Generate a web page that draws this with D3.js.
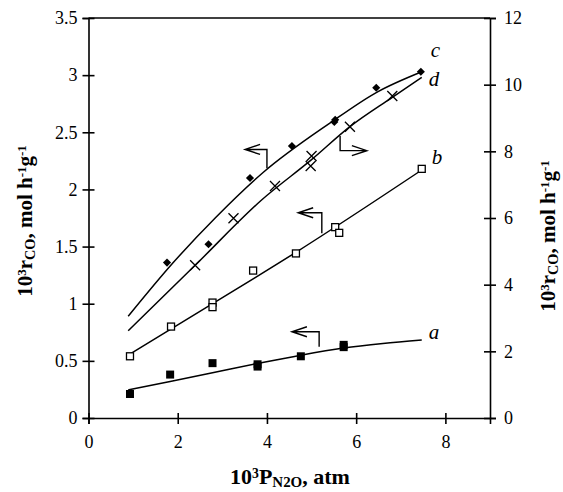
<!DOCTYPE html>
<html>
<head>
<meta charset="utf-8">
<script src="https://cdn.jsdelivr.net/npm/d3@7/dist/d3.min.js"></script>
<style>
  html, body { margin: 0; padding: 0; background: #fff; }
  svg { display: block; }
  text { font-family: "Liberation Serif", "Times New Roman", serif; fill: #000; }
</style>
</head>
<body>
<svg id="chart" width="563" height="492"></svg>
<script>
// Measured rates (series a, b, c on the left axis; d on the right axis)
const xA = [0.93, 1.83, 2.78, 3.79, 3.79, 4.76, 5.72, 5.72];
const yA = [0.21, 0.38, 0.48, 0.47, 0.45, 0.54, 0.64, 0.62];

const xB = [0.93, 1.85, 2.78, 2.78, 3.69, 4.65, 5.53, 5.62, 7.47];
const yB = [0.54, 0.80, 1.01, 0.97, 1.29, 1.44, 1.67, 1.62, 2.18];

const xC = [1.76, 2.69, 3.62, 4.56, 5.51, 5.53, 6.45, 7.45];
const yC = [1.36, 1.52, 2.10, 2.38, 2.59, 2.61, 2.89, 3.03];

const xD = [2.39, 3.25, 4.18, 4.98, 5.00, 5.86, 6.81];
const yD = [4.58, 5.99, 6.96, 7.56, 7.86, 8.74, 9.66];

// Fitted curves
const fitAx = [0.89, 1.83, 2.78, 3.79, 4.76, 5.72, 6.60, 7.47];
const fitAy = [0.245, 0.32, 0.396, 0.477, 0.55, 0.612, 0.652, 0.683];

const fitBx = [0.89, 2.80, 4.65, 7.47];
const fitBy = [0.55, 1.005, 1.45, 2.17];

const fitCx = [0.89, 1.90, 2.84, 3.92, 5.41, 6.46, 7.47];
const fitCy = [0.89, 1.36, 1.75, 2.15, 2.58, 2.85, 3.03];

const fitDx = [0.89, 2.39, 3.88, 5.00, 5.86, 6.81, 7.47];
const fitDy = [2.62, 4.58, 6.54, 7.75, 8.74, 9.62, 10.22];

// Axis ticks
const xTicks = [0, 2, 4, 6, 8];
const yLeftTicks = [0, 0.5, 1, 1.5, 2, 2.5, 3, 3.5];
const yRightTicks = [0, 2, 4, 6, 8, 10, 12];

// Curve labels and axis-pointer arrows (data units)
const curveLabels = ["a", "b", "c", "d"];
const arrowTipX = [4.56, 4.70, 3.51, 6.24];
const arrowTipY = [0.755, 1.796, 2.35, 8.02];
const arrowCornerX = [5.17, 5.23, 4.00, 5.64];
const arrowEndY = [0.624, 1.616, 2.185, 8.46];
const arrowAxis = ["left", "left", "left", "right"];

const svg = d3.select("#chart");
const x = d3.scaleLinear().domain([0, 9]).range([88.5, 490]);
const yL = d3.scaleLinear().domain([0, 3.5]).range([418, 18]);
const yR = d3.scaleLinear().domain([0, 12]).range([418, 18]);

const zip = (xs, ys) => xs.map((v, i) => [v, ys[i]]);

// Axes with ticks crossing the axis line
const gL = svg.append("g").attr("transform", `translate(${x(0)},0)`)
  .call(d3.axisLeft(yL).tickValues(yLeftTicks).tickFormat(d => String(d))
    .tickSizeOuter(0).tickSize(6).tickPadding(5));
gL.selectAll(".tick line").attr("x1", -6).attr("x2", 6);

const gR = svg.append("g").attr("transform", `translate(${x(9)},0)`)
  .call(d3.axisRight(yR).tickValues(yRightTicks).tickFormat(d => String(d))
    .tickSizeOuter(0).tickSize(6).tickPadding(8));
gR.selectAll(".tick line").attr("x1", -6).attr("x2", 6);

const gB = svg.append("g").attr("transform", `translate(0,${yL(0)})`)
  .call(d3.axisBottom(x).tickValues(xTicks).tickFormat(d => String(d))
    .tickSizeOuter(0).tickSize(6).tickPadding(11));
gB.selectAll(".tick line").attr("y1", -5).attr("y2", 6);

[gL, gR, gB].forEach(g => {
  g.select(".domain").attr("stroke", "#000").attr("stroke-width", 1.6);
  g.selectAll(".tick line").attr("stroke", "#000").attr("stroke-width", 1.6);
  g.selectAll(".tick text").attr("font-size", 18)
    .attr("font-family", "Liberation Serif, serif").attr("fill", "#000");
});

// top frame line
svg.append("line")
  .attr("x1", x(0)).attr("x2", x(9)).attr("y1", yL(3.5)).attr("y2", yL(3.5))
  .attr("stroke", "#000").attr("stroke-width", 1.6);

// Fitted curves
const lineL = d3.line().x(d => x(d[0])).y(d => yL(d[1])).curve(d3.curveMonotoneX);
const lineR = d3.line().x(d => x(d[0])).y(d => yR(d[1])).curve(d3.curveMonotoneX);

[[fitAx, fitAy, lineL], [fitBx, fitBy, lineL], [fitCx, fitCy, lineL], [fitDx, fitDy, lineR]]
  .forEach(([xs, ys, gen]) => {
    svg.append("path").attr("d", gen(zip(xs, ys)))
      .attr("fill", "none").attr("stroke", "#000").attr("stroke-width", 1.5);
  });

// a: filled squares
svg.append("g").selectAll("rect").data(zip(xA, yA)).join("rect")
  .attr("x", d => x(d[0]) - 4).attr("y", d => yL(d[1]) - 4)
  .attr("width", 8).attr("height", 8).attr("fill", "#000");

// b: open squares
svg.append("g").selectAll("rect").data(zip(xB, yB)).join("rect")
  .attr("x", d => x(d[0]) - 3.5).attr("y", d => yL(d[1]) - 3.5)
  .attr("width", 7).attr("height", 7)
  .attr("fill", "#fff").attr("stroke", "#000").attr("stroke-width", 1.3);

// c: filled diamonds
svg.append("g").selectAll("path").data(zip(xC, yC)).join("path")
  .attr("d", d3.symbol(d3.symbolDiamond2, 42))
  .attr("transform", d => `translate(${x(d[0])},${yL(d[1])})`)
  .attr("fill", "#000");

// d: crosses (right axis)
svg.append("g").selectAll("path").data(zip(xD, yD)).join("path")
  .attr("d", "M-5,-5L5,5M-5,5L5,-5")
  .attr("transform", d => `translate(${x(d[0])},${yR(d[1])})`)
  .attr("fill", "none").attr("stroke", "#000").attr("stroke-width", 1.3);

// Curve labels at the curve ends
const fitEnds = [
  [fitAx, fitAy, yL, 7, -1],
  [fitBx, fitBy, yL, 10, -6],
  [fitCx, fitCy, yL, 9, -15],
  [fitDx, fitDy, yR, 7, 9]
];
curveLabels.forEach((lab, i) => {
  const [xs, ys, ys_, dx, dy] = fitEnds[i];
  const n = xs.length - 1;
  svg.append("text")
    .attr("x", x(xs[n]) + dx).attr("y", ys_(ys[n]) + dy)
    .attr("font-size", 21).attr("font-style", "italic")
    .text(lab);
});

// Arrows pointing to the axis each curve belongs to
curveLabels.forEach((lab, i) => {
  const ys_ = arrowAxis[i] === "left" ? yL : yR;
  const tx = x(arrowTipX[i]), ty = ys_(arrowTipY[i]);
  const cx = x(arrowCornerX[i]), ey = ys_(arrowEndY[i]);
  const dir = arrowAxis[i] === "left" ? 1 : -1;
  const p = d3.path();
  p.moveTo(cx, ey); p.lineTo(cx, ty); p.lineTo(tx, ty);
  p.moveTo(tx + dir * 15, ty - 5); p.lineTo(tx, ty); p.lineTo(tx + dir * 15, ty + 5);
  svg.append("path").attr("d", p.toString())
    .attr("fill", "none").attr("stroke", "#000").attr("stroke-width", 1.4);
});

// Axis titles
function title(g, parts, size) {
  const t = g.append("text").attr("font-weight", "bold").attr("font-size", size)
    .attr("text-anchor", "middle");
  parts.forEach(([s, kind]) => {
    const ts = t.append("tspan").text(s);
    if (kind === "sup") ts.attr("font-size", size * 0.62).attr("baseline-shift", "45%");
    else if (kind === "sub") ts.attr("font-size", size * 0.68).attr("baseline-shift", "-22%");
  });
  return t;
}
const rateParts = [["10", ""], ["3", "sup"], ["r", ""], ["CO", "sub"], [", mol h", ""],
  ["-1", "sup"], ["g", ""], ["-1", "sup"]];

title(svg.append("g").attr("transform", "translate(290,484)"),
  [["10", ""], ["3", "sup"], ["P", ""], ["N2O", "sub"], [", atm", ""]], 22);

title(svg.append("g").attr("transform", "translate(32,221) rotate(-90)"), rateParts, 21);
title(svg.append("g").attr("transform", "translate(555,236) rotate(-90)"), rateParts, 21);
</script>
</body>
</html>
